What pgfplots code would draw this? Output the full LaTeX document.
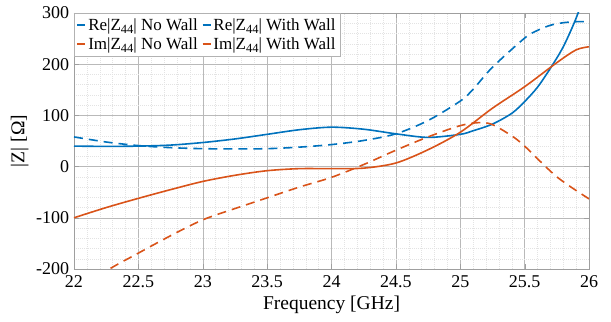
\documentclass[border=0pt]{standalone}
\usepackage{pgfplots}
\pgfplotsset{compat=1.18}
\usepackage{fontspec}
\setmainfont{Liberation Serif}
\definecolor{mblue}{RGB}{0,114,189}
\definecolor{morange}{RGB}{217,83,25}
% subscript index and a strut for the legend rows
\newcommand{\sub}[1]{\raisebox{-0.42ex}{\fontsize{12.5}{12.5}\selectfont #1}}
\newcommand{\lrow}{\rule[-6.5pt]{0pt}{19pt}}

\begin{document}
\fontsize{17}{20}\selectfont
\begin{tikzpicture}
\begin{axis}[
  scale only axis, width=515pt, height=256pt,
  xmin=22, xmax=26, ymin=-200, ymax=300,
  xtick={22,22.5,23,23.5,24,24.5,25,25.5,26},
  xticklabels={22,22.5,23,23.5,24,24.5,25,25.5,26},
  ytick={-200,-100,0,100,200,300},
  yticklabels={-200,-100,0,100,200,300},
  minor x tick num=4, minor y tick num=4,
  grid=both,
  major grid style={gray!55, line width=0.5pt},
  minor grid style={gray!22, line width=0.4pt, dash pattern=on 1pt off 1pt},
  axis line style={gray!75},
  tick style={gray!75},
  tick align=inside,
  major tick length=5pt, minor tick length=0pt,
  ticklabel style={font=\fontsize{18}{21}\selectfont},
  xticklabel style={yshift=-0.5pt},
  yticklabel style={xshift=1pt},
  label style={font=\fontsize{19.5}{23}\selectfont},
  xlabel={Frequency [GHz]},
  ylabel={|Z| [Ω]},
  xlabel style={yshift=3pt},
  ylabel style={yshift=-4pt},
  legend columns=2,
  legend cell align=left,
  legend style={at={(0,1)}, anchor=north west, draw=gray!60, fill=white,
    font=\fontsize{17}{20}\selectfont, inner sep=2.5pt, row sep=0pt,
    /tikz/every even column/.append style={column sep=2pt}},
  legend image code/.code={\draw[#1] (0pt,0pt) -- (8pt,0pt);},
  every axis plot/.append style={line width=1.6pt},
]
% Re|Z44|, no wall
\addplot[mblue, smooth, dash pattern=on 9pt off 6pt] coordinates {
(22.0,58) (22.25,48) (22.5,41) (22.75,37) (23.0,35) (23.25,34.5) (23.5,35)
(23.75,38) (24.0,43) (24.25,51) (24.5,64) (24.75,90) (25.0,128) (25.1,151)
(25.25,194) (25.5,251) (25.6,266) (25.7,276) (25.8,281) (25.9,283) (26.0,283)};
\addlegendentry{\lrow Re|Z\sub{44}| No Wall}
% Re|Z44|, with wall
\addplot[mblue, smooth] coordinates {
(22.0,40) (22.25,39.5) (22.5,40) (22.75,42) (23.0,47) (23.25,54) (23.5,63)
(23.75,72) (24.0,77) (24.25,73) (24.5,64) (24.75,57) (25.0,63) (25.1,70)
(25.25,83) (25.4,104) (25.5,127) (25.6,155) (25.7,192) (25.8,234) (25.9,290) (26.0,360)};
\addlegendentry{\lrow Re|Z\sub{44}| With Wall}
% Im|Z44|, no wall
\addplot[morange, smooth, dash pattern=on 9pt off 6pt] coordinates {
(22.0,-250) (22.25,-204) (22.5,-169) (22.75,-135) (23.0,-104) (23.25,-82)
(23.5,-61) (23.75,-40) (24.0,-21) (24.25,4) (24.5,32) (24.75,58) (25.0,80)
(25.15,86) (25.25,82) (25.4,60) (25.5,40) (25.75,-20) (26.0,-63)};
\addlegendentry{\lrow Im|Z\sub{44}| No Wall}
% Im|Z44|, with wall
\addplot[morange, smooth] coordinates {
(22.0,-100) (22.25,-80) (22.5,-62) (22.75,-45) (23.0,-29) (23.25,-17)
(23.5,-8) (23.75,-4) (24.0,-4) (24.25,-3) (24.5,7) (24.75,33) (25.0,67)
(25.25,114) (25.5,156) (25.75,203) (25.9,228) (26.0,234)};
\addlegendentry{\lrow Im|Z\sub{44}| With Wall}
\end{axis}
\pgfresetboundingbox
\path ([shift={(-74pt,-53pt)}]current axis.south west) rectangle ([shift={(22pt,13pt)}]current axis.north east);
\end{tikzpicture}
\end{document}
